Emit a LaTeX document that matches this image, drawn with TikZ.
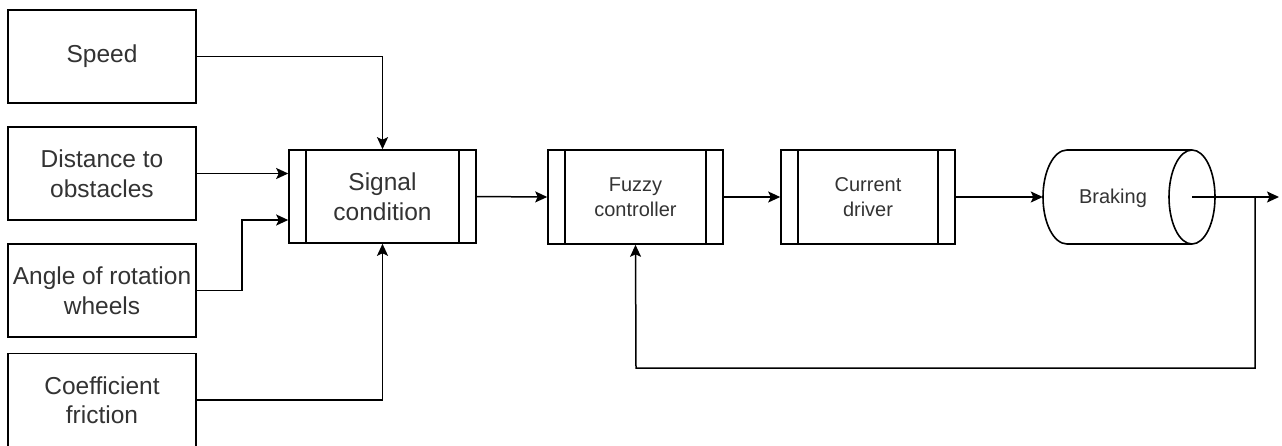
\documentclass[tikz,border=0pt]{standalone}
\usepackage{fontspec}
\setmainfont{Liberation Sans}
\usetikzlibrary{arrows.meta,calc}
\definecolor{txt}{HTML}{333333}
\tikzset{
  inbox/.style={draw=black, line width=1.6pt, minimum width=188pt, minimum height=93pt, inner sep=0pt, align=center, text=txt, font=\fontsize{24.5}{29.5}\selectfont},
  procbox/.style={draw=black, line width=1.6pt, inner sep=0pt, align=center, text=txt},
  conn/.style={line width=1.5pt, -{Stealth[length=12pt,width=11pt,inset=2.5pt]}},
  bigtxt/.style={font=\fontsize{24.5}{29.5}\selectfont},
  smalltxt/.style={font=\fontsize{20}{25}\selectfont},
  edge/.style={line width=1.6pt}
}
\begin{document}
\begin{tikzpicture}[x=1pt,y=-1pt]
\useasboundingbox (0,0) rectangle (1282,445);
\fill[white] (0,0) rectangle (1282,445);
% inputs
\node[inbox] (speed) at (102,56.5) {Speed};
\node[inbox] (dist) at (102,173.5) {Distance to\\obstacles};
\node[inbox] (angle) at (102,290.5) {Angle of rotation\\wheels};
\node[inbox] (coef) at (102,400) {Coefficient\\friction};
% process boxes
\node[procbox, bigtxt, minimum width=187pt, minimum height=93pt] (sig) at (382.5,196.5) {Signal\\condition};
\node[procbox, smalltxt, minimum width=175pt, minimum height=94pt] (fuzzy) at (635.5,197) {Fuzzy\\controller};
\node[procbox, smalltxt, minimum width=174pt, minimum height=94pt] (cur) at (868,197) {Current\\driver};
\foreach \n in {sig,fuzzy,cur}{
  \draw[edge] ($(\n.north west)+(18,0)$) -- ($(\n.south west)+(18,0)$);
  \draw[edge] ($(\n.north east)+(-18,0)$) -- ($(\n.south east)+(-18,0)$);
}
% braking cylinder
\node[inner sep=0pt, minimum width=172pt, minimum height=94pt] (brk) at (1129,197) {};
\node[text=txt, smalltxt, inner sep=0pt] (brklbl) at (1113,198) {Braking};
\draw[edge] (1067,150) -- (1192,150);
\draw[edge] (1067,244) -- (1192,244);
\draw[edge] (1067,150) arc[start angle=270, end angle=90, x radius=24, y radius=47];
\draw[edge] (1192,197) ellipse[x radius=23, y radius=47];
\coordinate (brkc) at (1192,197);
\coordinate (out) at (1279,197);
\coordinate (tap) at (1255,197);
% connectors
\draw[conn] (speed.east) -| (sig.north);
\draw[conn] (dist.east) -- (dist.east -| sig.west);
\draw[conn] (angle.east) -- (242,290.5) |- (sig.west |- 0,220);
\draw[conn] (coef.east) -| (sig.south);
\draw[conn] (sig.east) -- (fuzzy.west);
\draw[conn] (fuzzy.east) -- (cur.west);
\draw[conn] (cur.east) -- (brk.west);
\draw[conn] (brkc) -- (out);
\draw[conn] (tap) |- (636,368) -- (fuzzy.south);
\end{tikzpicture}
\end{document}
